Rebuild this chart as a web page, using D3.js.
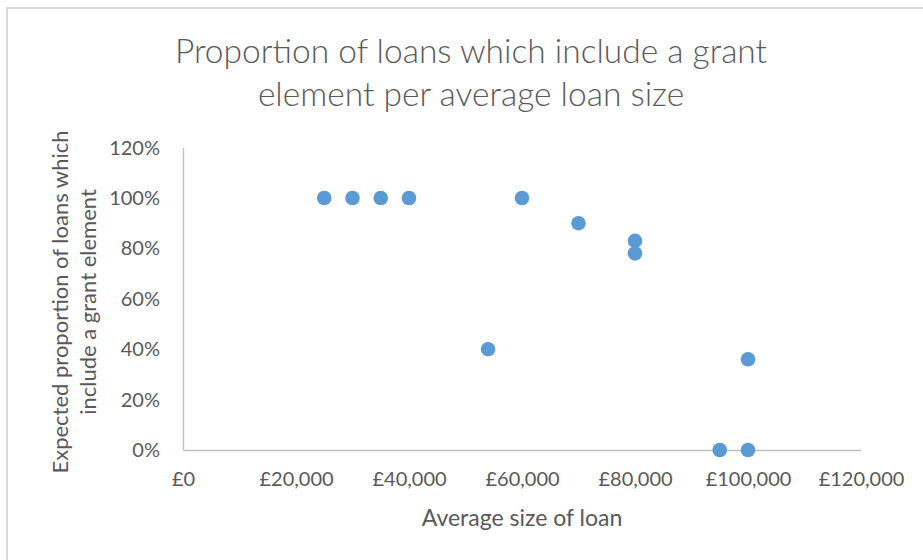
<!DOCTYPE html>
<html>
<head>
<meta charset="utf-8">
<script src="https://cdn.jsdelivr.net/npm/d3@7"></script>
<style>
  html, body { margin: 0; padding: 0; background: #fff; }
  svg { display: block; }
</style>
</head>
<body>
<svg id="chart" width="923" height="560"></svg>
<script>
// ---- data ----
const loanSizes = [25000, 30000, 35000, 40000, 54000, 60000, 70000, 80000, 80000, 95000, 100000, 100000];
const grantShares = [1.00, 1.00, 1.00, 1.00, 0.40, 1.00, 0.90, 0.83, 0.78, 0.00, 0.36, 0.00];
const xTicks = [0, 20000, 40000, 60000, 80000, 100000, 120000];
const yTicks = [0, 0.2, 0.4, 0.6, 0.8, 1.0, 1.2];
const titleLines = ["Proportion of loans which include a grant", "element per average loan size"];
const yTitleLines = ["Expected proportion of loans which", "include a grant element"];
const xTitle = "Average size of loan";

const font = "Lato, 'Open Sans', sans-serif";
const textColor = "#595959";

const svg = d3.select("#chart");
svg.append("rect").attr("width", 923).attr("height", 560).attr("fill", "#fff");
// chart border
svg.append("rect").attr("x", 7).attr("y", 8).attr("width", 1000).attr("height", 600)
  .attr("fill", "none").attr("stroke", "#D9D9D9").attr("stroke-width", 2);

const plot = { left: 183, right: 861, top: 147.6, bottom: 450 };
const x = d3.scaleLinear().domain([0, 120000]).range([plot.left, plot.right]);
const y = d3.scaleLinear().domain([0, 1.2]).range([plot.bottom, plot.top]);

// x axis
const xAxis = d3.axisBottom(x).tickValues(xTicks).tickSize(0).tickPadding(22)
  .tickFormat(d => "£" + d3.format(",")(d));
const gx = svg.append("g").attr("transform", `translate(0,${plot.bottom})`).call(xAxis);
gx.select(".domain").attr("stroke", "#BFBFBF").attr("stroke-width", 1.3);
gx.selectAll("text").attr("font-family", font).attr("font-size", 20).attr("fill", textColor);

// y axis
const yAxis = d3.axisLeft(y).tickValues(yTicks).tickSize(0).tickPadding(23)
  .tickFormat(d3.format(".0%"));
const gy = svg.append("g").attr("transform", `translate(${plot.left},0)`).call(yAxis);
gy.select(".domain").attr("stroke", "#BFBFBF").attr("stroke-width", 1.3);
gy.selectAll("text").attr("font-family", font).attr("font-size", 20).attr("fill", textColor);

// points
const pts = loanSizes.map((v, i) => ({ x: v, y: grantShares[i] }));
svg.append("g").selectAll("circle").data(pts).join("circle")
  .attr("cx", d => x(d.x)).attr("cy", d => y(d.y)).attr("r", 7.3)
  .attr("fill", "#5B9BD5");

// title
svg.append("g").selectAll("text").data(titleLines).join("text")
  .attr("x", 471).attr("y", (d, i) => 63 + i * 43)
  .attr("text-anchor", "middle").attr("font-family", font).attr("font-weight", 300)
  .attr("font-size", 33.5).attr("fill", textColor).text(d => d);

// x title
svg.append("text").attr("x", 522).attr("y", 526).attr("text-anchor", "middle")
  .attr("font-family", font).attr("font-size", 23).attr("fill", textColor).text(xTitle);

// y title
svg.append("g").attr("transform", "translate(0,302) rotate(-90)")
  .selectAll("text").data(yTitleLines).join("text")
  .attr("x", 0).attr("y", (d, i) => 68 + i * 28)
  .attr("text-anchor", "middle").attr("font-family", font)
  .attr("font-size", 22).attr("fill", textColor).text(d => d);
</script>
</body>
</html>
